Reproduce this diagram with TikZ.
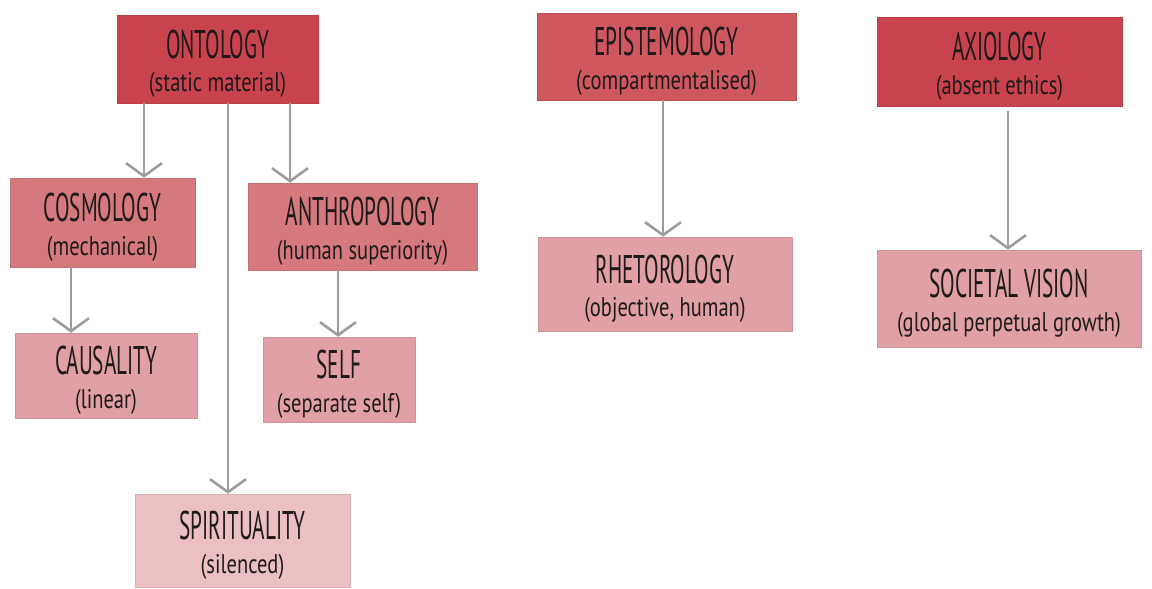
\documentclass[tikz,border=0pt]{standalone}
\usepackage{fontspec}
\usetikzlibrary{arrows.meta}
\newfontfamily\ttlfont[FakeStretch=0.53]{PT Sans}
\newfontfamily\subfont[FakeStretch=0.76]{PT Sans}
\definecolor{inkdark}{HTML}{C9434F}
\definecolor{inkdarkB}{HTML}{CE5760}
\definecolor{inkmid}{HTML}{D6797F}
\definecolor{inklight}{HTML}{E0A0A5}
\definecolor{inkpale}{HTML}{ECC0C2}
\definecolor{linegray}{HTML}{9C9C9C}
\definecolor{textink}{HTML}{1E1A1A}
\tikzset{
  panel/.style={rectangle, inner sep=0pt, draw=#1!92!black, line width=0.5pt, fill=#1},
  ttl/.style={text=textink, font=\ttlfont\fontsize{40}{42}\selectfont, inner sep=0pt},
  sub/.style={text=textink, font=\subfont\fontsize{27}{29}\selectfont, inner sep=0pt},
  arr/.style={draw=linegray, line width=2.8pt, -{Straight Barb[length=13pt,width=36pt,line width=2.6pt]}}
}
% \pane{name}{colour}{left}{top}{right}{bottom}{title}{subtitle}
\newcommand{\pane}[8]{%
  \node[panel=#2, minimum width={(#5-#3)*1pt}, minimum height={(#6-#4)*1pt}] (#1) at ({(#3+#5)/2},{(#4+#6)/2}) {};
  \node[ttl] (#1-t) at ([yshift=15pt]#1.center) {#7};
  \node[sub] (#1-s) at ([yshift=-26pt]#1.center) {#8};
}
\begin{document}
\begin{tikzpicture}[x=1pt,y=-1pt]
\useasboundingbox (0,0) rectangle (1152,589);

\pane{onto}{inkdark}{117}{15}{318}{103}{ONTOLOGY}{(static material)}
\pane{epis}{inkdarkB}{537}{13}{796}{100}{EPISTEMOLOGY}{(compartmentalised)}
\pane{axio}{inkdark}{877}{17}{1122}{106}{AXIOLOGY}{(absent ethics)}
\pane{cosmo}{inkmid}{10}{178}{195}{267}{COSMOLOGY}{(mechanical)}
\pane{anthro}{inkmid}{248}{183}{477}{270}{ANTHROPOLOGY}{(human superiority)}
\pane{rhet}{inklight}{538}{237}{792}{331}{RHETOROLOGY}{(objective, human)}
\pane{soc}{inklight}{877}{250}{1141}{347}{SOCIETAL VISION}{(global perpetual growth)}
\pane{caus}{inklight}{15}{333}{197}{418}{CAUSALITY}{(linear)}
\pane{self}{inklight}{263}{337}{415}{422}{SELF}{(separate self)}
\pane{spirit}{inkpale}{135}{494}{350}{587}{SPIRITUALITY}{(silenced)}

% connectors
\draw[arr] (onto.south -| 144,0) -- (cosmo.north -| 144,0);
\draw[arr] (onto.south -| 228,0) -- (spirit.north -| 228,0);
\draw[arr] (onto.south -| 290,0) -- (anthro.north -| 290,0);
\draw[arr] (cosmo.south -| 71,0) -- (caus.north -| 71,0);
\draw[arr] (anthro.south -| 338,0) -- (self.north -| 338,0);
\draw[arr] (epis.south -| 663,0) -- (rhet.north -| 663,0);
\draw[arr] ([yshift=-5pt]axio.south -| 1008,0) -- (soc.north -| 1008,0);
\end{tikzpicture}
\end{document}
